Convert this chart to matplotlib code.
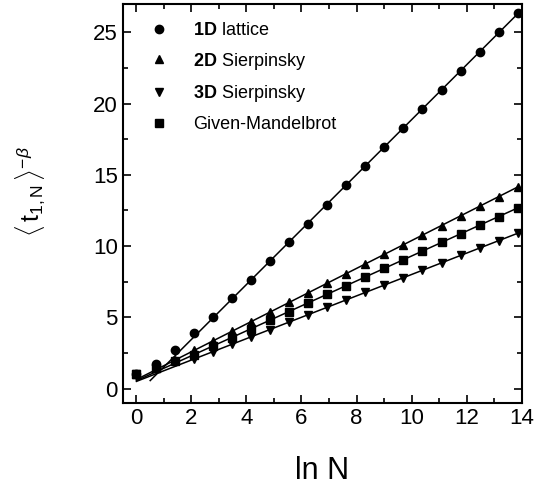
import numpy as np
import matplotlib.pyplot as plt
from matplotlib.ticker import MultipleLocator

plt.rcParams['font.family'] = ['Liberation Sans', 'DejaVu Sans']
plt.rcParams['mathtext.fontset'] = 'custom'
plt.rcParams['mathtext.rm'] = 'Liberation Sans'
plt.rcParams['mathtext.bf'] = 'Liberation Sans:bold'
plt.rcParams['mathtext.it'] = 'Liberation Sans:italic'

# N = 2^k, k = 0..20
N = [2 ** k for k in range(21)]

lattice_1d = [1.05, 1.74, 2.73, 3.87, 5.00, 6.33, 7.60, 8.93, 10.25, 11.57, 12.91,
              14.26, 15.62, 16.95, 18.30, 19.63, 20.97, 22.30, 23.65, 25.00, 26.33]
sierp_2d = [1.00, 1.45, 2.00, 2.70, 3.33, 4.01, 4.69, 5.36, 6.04, 6.71, 7.39,
            8.06, 8.74, 9.42, 10.09, 10.77, 11.44, 12.12, 12.80, 13.47, 14.15]
sierp_3d = [1.00, 1.38, 1.85, 2.06, 2.58, 3.10, 3.62, 4.14, 4.66, 5.18, 5.70,
            6.22, 6.74, 7.26, 7.78, 8.30, 8.82, 9.34, 9.86, 10.38, 10.90]
given_mandel = [1.00, 1.42, 1.90, 2.37, 2.98, 3.58, 4.19, 4.80, 5.40, 6.01, 6.61,
                7.22, 7.83, 8.43, 9.04, 9.65, 10.25, 10.86, 11.47, 12.07, 12.68]

x = np.log(N)

series = [
    (r'$\mathbf{1D}$ lattice', lattice_1d, 'o', 0.5),
    (r'$\mathbf{2D}$ Sierpinsky', sierp_2d, '^', 0.0),
    (r'$\mathbf{3D}$ Sierpinsky', sierp_3d, 'v', 0.0),
    ('Given-Mandelbrot', given_mandel, 's', 0.0),
]

fig = plt.figure(figsize=(5.49, 4.87), dpi=100)
ax = fig.add_axes([0.2235, 0.173, 0.7265, 0.819])

for label, y, m, x_start in series:
    y = np.array(y)
    # linear fit on the asymptotic part (k >= 4)
    slope, icpt = np.polyfit(x[4:], y[4:], 1)
    xf = np.array([x_start, x[-1]])
    ax.plot(xf, slope * xf + icpt, color='black', lw=1.1)
    ax.plot(x, y, linestyle='none', marker=m, color='black',
            markersize=6, label=label)

ax.set_xlim(-0.5, 14)
ax.set_ylim(-1, 27)
ax.xaxis.set_major_locator(MultipleLocator(2))
ax.xaxis.set_minor_locator(MultipleLocator(1))
ax.yaxis.set_major_locator(MultipleLocator(5))
ax.yaxis.set_minor_locator(MultipleLocator(2.5))
ax.tick_params(which='both', direction='in', top=True, right=True,
               width=1.2, labelsize=16)
ax.tick_params(which='major', length=6)
ax.tick_params(which='minor', length=3.5)
for s in ax.spines.values():
    s.set_linewidth(1.5)

ax.set_xlabel('ln N', fontsize=22, labelpad=20)
ax.set_ylabel(r'$\langle\,\mathrm{t}_{1,\mathrm{N}}\,\rangle^{-\beta}$', fontsize=18)
ax.yaxis.set_label_coords(-0.19, 0.53)

ax.legend(loc='upper left', frameon=False, fontsize=13, handletextpad=0.9,
          labelspacing=0.65, borderaxespad=0.6, markerscale=1.0)

fig.savefig('out.png', dpi=100)
